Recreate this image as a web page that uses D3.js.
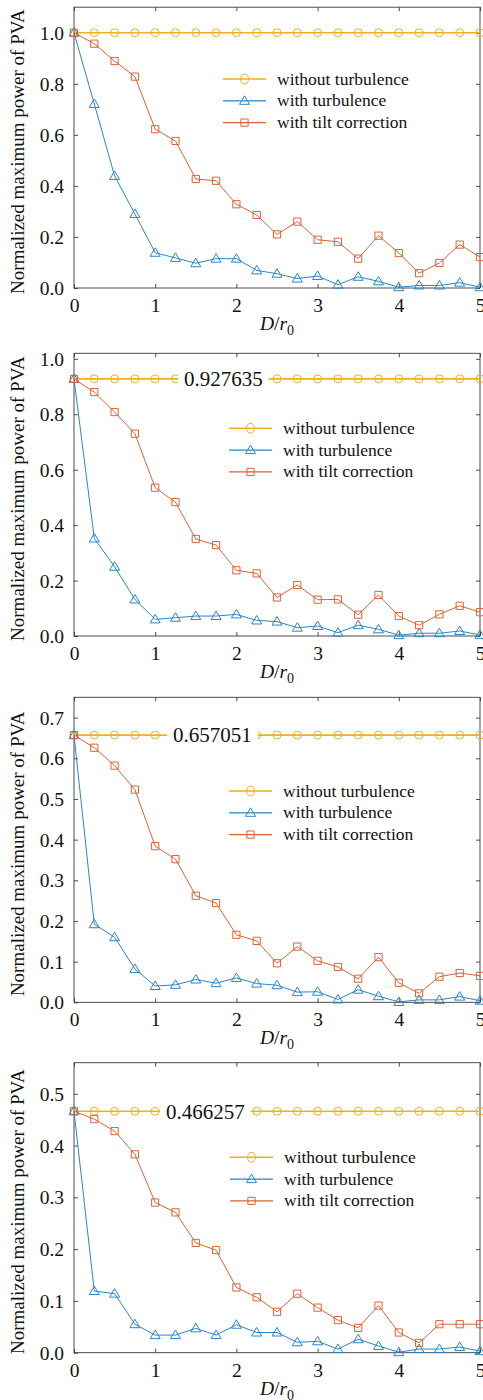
<!DOCTYPE html>
<html><head><meta charset="utf-8">
<script src="https://cdn.jsdelivr.net/npm/d3@7"></script>
<style>
body{margin:0;background:#fff}
svg{display:block}
text{font-family:"Liberation Serif","Times New Roman",serif;fill:#111}
</style>
</head><body>
<svg id="chart" width="483" height="1400"></svg>
<script>
// ---------------- DATA ----------------
const dOverR0 = [0,0.25,0.5,0.75,1,1.25,1.5,1.75,2,2.25,2.5,2.75,3,3.25,3.5,3.75,4,4.25,4.5,4.75,5];
const xTicks = [0,1,2,3,4,5];
const seriesNames = ["without turbulence","with turbulence","with tilt correction"];
const yAxisTitle = "Normalized maximum power of PVA";

// "without turbulence" level of each panel
const noTurbulence = [1.0, 0.927635, 0.657051, 0.466257];
const annotationLabels = [null, "0.927635", "0.657051", "0.466257"];

const withTurbulence1 = [1.0,0.721,0.439,0.290,0.138,0.118,0.097,0.115,0.115,0.069,0.056,0.037,0.047,0.013,0.044,0.026,0.003,0.010,0.010,0.021,0.003];
const tiltCorrection1 = [1.0,0.957,0.889,0.828,0.622,0.576,0.427,0.420,0.328,0.286,0.210,0.260,0.189,0.181,0.115,0.205,0.137,0.058,0.098,0.170,0.121];

const withTurbulence2 = [0.927635,0.352,0.250,0.132,0.060,0.066,0.072,0.072,0.078,0.056,0.052,0.030,0.036,0.012,0.039,0.024,0.003,0.010,0.010,0.018,0.004];
const tiltCorrection2 = [0.927635,0.880,0.808,0.730,0.535,0.483,0.350,0.328,0.237,0.226,0.139,0.184,0.131,0.132,0.077,0.148,0.072,0.039,0.078,0.109,0.086];

const withTurbulence3 = [0.657051,0.192,0.160,0.082,0.040,0.043,0.056,0.047,0.060,0.046,0.042,0.025,0.026,0.007,0.031,0.015,0.001,0.006,0.006,0.014,0.004];
const tiltCorrection3 = [0.657051,0.626,0.582,0.523,0.384,0.352,0.262,0.244,0.166,0.151,0.096,0.137,0.102,0.087,0.058,0.111,0.048,0.022,0.063,0.072,0.065];

const withTurbulence4 = [0.466257,0.119,0.114,0.055,0.034,0.034,0.047,0.034,0.054,0.039,0.039,0.020,0.022,0.007,0.026,0.013,0.001,0.007,0.007,0.011,0.003];
const tiltCorrection4 = [0.466257,0.451,0.428,0.383,0.290,0.271,0.212,0.198,0.126,0.107,0.079,0.114,0.087,0.063,0.048,0.091,0.039,0.019,0.055,0.055,0.055];

const yTicks1 = [0,0.2,0.4,0.6,0.8,1.0];
const yTicks2 = [0,0.2,0.4,0.6,0.8,1.0];
const yTicks3 = [0,0.1,0.2,0.3,0.4,0.5,0.6,0.7];
const yTicks4 = [0,0.1,0.2,0.3,0.4,0.5];

const withTurbulence = [withTurbulence1, withTurbulence2, withTurbulence3, withTurbulence4];
const tiltCorrection = [tiltCorrection1, tiltCorrection2, tiltCorrection3, tiltCorrection4];
const yTicks = [yTicks1, yTicks2, yTicks3, yTicks4];

// ---------------- LAYOUT ----------------
const colors = {yellow:"#EDB120", blue:"#2A86C8", orange:"#DD6234"};
const left = 74, right = 480;
const panels = [
  {top:7.2,   zero:288,    yMax:1.1,  legX:223, legY:79,     annX:null},
  {top:353.3, zero:636,    yMax:1.02, legX:229, legY:428.3,  annX:1.355},
  {top:697.3, zero:1002.3, yMax:0.75, legX:229, legY:791,    annX:1.219},
  {top:1062.7,zero:1352.7, yMax:0.56, legX:230, legY:1157.3, annX:1.133}
];

const svg = d3.select("#chart");
const x = d3.scaleLinear().domain([0,5]).range([left,right]);

function circlePath(cx, cy, rx, ry){
  return `M${cx-rx},${cy}a${rx},${ry} 0 1,0 ${2*rx},0a${rx},${ry} 0 1,0 ${-2*rx},0Z`;
}
function triPath(cx, cy){
  return `M${cx},${cy-5}L${cx+5},${cy+3.5}L${cx-5},${cy+3.5}Z`;
}
function sqPath(cx, cy){
  const h = 3.6;
  return `M${cx-h},${cy-h}h${2*h}v${2*h}h${-2*h}Z`;
}

panels.forEach((p, i) => {
  const g = svg.append("g");
  const y = d3.scaleLinear().domain([0, p.yMax]).range([p.zero, p.top]);

  // frame
  g.append("rect").attr("x", left).attr("y", p.top)
    .attr("width", right-left).attr("height", p.zero-p.top)
    .attr("fill","none").attr("stroke","#3a3a3a").attr("stroke-width",0.9);

  // axes (ticks inward, mirrored)
  const fmt = d3.format(".1f");
  const yAxL = d3.axisLeft(y).tickValues(yTicks[i]).tickSize(-4).tickPadding(10).tickFormat(fmt);
  const yAxR = d3.axisRight(y).tickValues(yTicks[i]).tickSize(-4).tickFormat("");
  const xAxB = d3.axisBottom(x).tickValues(xTicks).tickSize(-4).tickPadding(10).tickFormat(d3.format("d"));
  const xAxT = d3.axisTop(x).tickValues(xTicks).tickSize(-4).tickFormat("");

  const styleAxis = sel => {
    sel.select(".domain").remove();
    sel.selectAll(".tick line").attr("stroke","#3a3a3a").attr("stroke-width",0.9);
    sel.selectAll("text").attr("font-size",19.5).attr("fill","#111")
      .style("font-family",'"Liberation Serif","Times New Roman",serif');
  };
  g.append("g").attr("transform",`translate(${left},0)`).call(yAxL).call(styleAxis)
    .selectAll("text").attr("x",-10).attr("dy","0.34em");
  g.append("g").attr("transform",`translate(${right},0)`).call(yAxR).call(styleAxis);
  g.append("g").attr("transform",`translate(0,${p.zero})`).call(xAxB).call(styleAxis)
    .selectAll("text").attr("y",17.5).attr("dy","0.34em");
  g.append("g").attr("transform",`translate(0,${p.top})`).call(xAxT).call(styleAxis);

  // x-axis title D/r0
  const xt = g.append("text").attr("x", (left+right)/2).attr("y", p.zero+42)
    .attr("text-anchor","middle").attr("font-size",19.5);
  xt.append("tspan").attr("font-style","italic").text("D");
  xt.append("tspan").text("/");
  xt.append("tspan").attr("font-style","italic").text("r");
  xt.append("tspan").attr("font-size",14).attr("dy",5).text("0");

  // y-axis title
  g.append("text")
    .attr("transform",`translate(23.5,${(p.top+p.zero)/2+4}) rotate(-90)`)
    .attr("text-anchor","middle").attr("font-size",19)
    .text(yAxisTitle);

  const line = d3.line().x((d,j)=>x(dOverR0[j])).y(d=>y(d));

  // without turbulence (constant)
  const level = dOverR0.map(() => noTurbulence[i]);
  g.append("path").attr("d", line(level)).attr("fill","none")
    .attr("stroke",colors.yellow).attr("stroke-width",1.6);
  g.selectAll(".c").data(level).enter().append("path")
    .attr("d",(d,j)=>circlePath(x(dOverR0[j]), y(d), 4, 4))
    .attr("fill","none").attr("stroke",colors.yellow).attr("stroke-width",1);

  // annotation with white box
  if (annotationLabels[i]) {
    const ty = y(noTurbulence[i]);
    const t = g.append("text").attr("x", x(p.annX)).attr("y", ty+7.3)
      .attr("font-size",21).text(annotationLabels[i]);
    const bb = t.node().getBBox();
    g.insert("rect", () => t.node())
      .attr("x", bb.x-6).attr("y", ty-12).attr("width", bb.width+12).attr("height", 24)
      .attr("fill","#fff");
  }

  // with turbulence
  g.append("path").attr("d", line(withTurbulence[i])).attr("fill","none")
    .attr("stroke",colors.blue).attr("stroke-width",1);
  g.selectAll(".t").data(withTurbulence[i]).enter().append("path")
    .attr("d",(d,j)=>triPath(x(dOverR0[j]), y(d)))
    .attr("fill","none").attr("stroke",colors.blue).attr("stroke-width",1);

  // with tilt correction
  g.append("path").attr("d", line(tiltCorrection[i])).attr("fill","none")
    .attr("stroke",colors.orange).attr("stroke-width",1);
  g.selectAll(".s").data(tiltCorrection[i]).enter().append("path")
    .attr("d",(d,j)=>sqPath(x(dOverR0[j]), y(d)))
    .attr("fill","none").attr("stroke",colors.orange).attr("stroke-width",1);

  // legend
  const lg = g.append("g");
  const legColors = [colors.yellow, colors.blue, colors.orange];
  seriesNames.forEach((name, k) => {
    const ly = p.legY + k*21.8;
    lg.append("line").attr("x1",p.legX).attr("x2",p.legX+43).attr("y1",ly).attr("y2",ly)
      .attr("stroke",legColors[k]).attr("stroke-width", k===0?1.6:1.2);
    const cx = p.legX+21.5;
    let d;
    if (k===0) d = circlePath(cx, ly, 4, 5);
    else if (k===1) d = triPath(cx, ly);
    else d = sqPath(cx, ly);
    lg.append("path").attr("d", d).attr("fill","none").attr("stroke",legColors[k]).attr("stroke-width",1);
    lg.append("text").attr("x", p.legX+54).attr("y", ly+5.5)
      .attr("font-size",17.5).text(name);
  });
});
</script>
</body></html>
